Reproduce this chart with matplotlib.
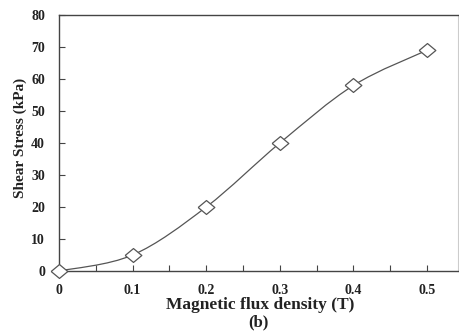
import numpy as np
import matplotlib
matplotlib.use("Agg")
import matplotlib.pyplot as plt
from matplotlib.path import Path
from matplotlib.patches import PathPatch

# data
flux = [0.0, 0.1, 0.2, 0.3, 0.4, 0.5]
stress = [0, 5, 20, 40, 58, 69]
xticks = [0, 0.1, 0.2, 0.3, 0.4, 0.5]
xtick_labels = ["0", "0.1", "0.2", "0.3", "0.4", "0.5"]
yticks = [0, 10, 20, 30, 40, 50, 60, 70, 80]

plt.rcParams["font.family"] = ["Liberation Serif", "DejaVu Serif"]
plt.rcParams["font.weight"] = "bold"

W, H = 460, 332
fig = plt.figure(figsize=(4.6, 3.32), dpi=100)
ax = fig.add_axes([59 / W, 61 / H, 399 / W, 256 / H])

# smoothed line like a spreadsheet "smooth line" (bezier through the points)
pts = np.column_stack([flux, stress]).astype(float)
verts = [tuple(pts[0])]
codes = [Path.MOVETO]
n = len(pts)
for i in range(n - 1):
    p0 = pts[max(i - 1, 0)]
    p1 = pts[i]
    p2 = pts[i + 1]
    p3 = pts[min(i + 2, n - 1)]
    c1 = p1 + (p2 - p0) / 6
    c2 = p2 - (p3 - p1) / 6
    verts += [tuple(c1), tuple(c2), tuple(p2)]
    codes += [Path.CURVE4] * 3
ax.add_patch(PathPatch(Path(verts, codes), fill=False, edgecolor="#555555", lw=0.9, zorder=2))

diamond = [(-1.2, 0), (0, 1), (1.2, 0), (0, -1), (-1.2, 0)]
ax.plot(flux, stress, linestyle="none", marker=diamond, markersize=12,
        markerfacecolor="white", markeredgecolor="#555555", markeredgewidth=0.9,
        zorder=3, clip_on=False)

ax.set_xlim(0, 0.542)
ax.set_ylim(0, 80)
ax.set_xticks(xticks)
ax.set_xticklabels(xtick_labels)
ax.set_xticks(np.arange(0.05, 0.55, 0.1), minor=True)
ax.set_yticks(yticks)
ax.tick_params(axis="both", direction="in", length=4, width=0.8, color="#444444",
               labelsize=10, labelcolor="#222222")
ax.tick_params(axis="x", which="minor", direction="in", length=4, width=0.8, color="#444444")
ax.tick_params(axis="x", pad=9)
ax.tick_params(axis="y", pad=10)
for lab in ax.get_xticklabels() + ax.get_yticklabels():
    lab.set_fontweight("bold")

for side in ["left", "bottom", "top"]:
    ax.spines[side].set_color("#444444")
    ax.spines[side].set_linewidth(1.0)
ax.spines["right"].set_color("#cccccc")
ax.spines["right"].set_linewidth(0.8)

fig.text(260 / W, 1 - 305 / H, "Magnetic flux density (T)", fontsize=12.5,
         fontweight="bold", ha="center", va="center", color="#222222")
fig.text(258 / W, 1 - 322 / H, "(b)", fontsize=12, fontweight="bold",
         ha="center", va="center", color="#222222")
fig.text(20 / W, 1 - 138 / H, "Shear Stress (kPa)", fontsize=11, fontweight="bold",
         rotation=90, ha="center", va="center", color="#222222")

fig.savefig("out.png", dpi=100)
